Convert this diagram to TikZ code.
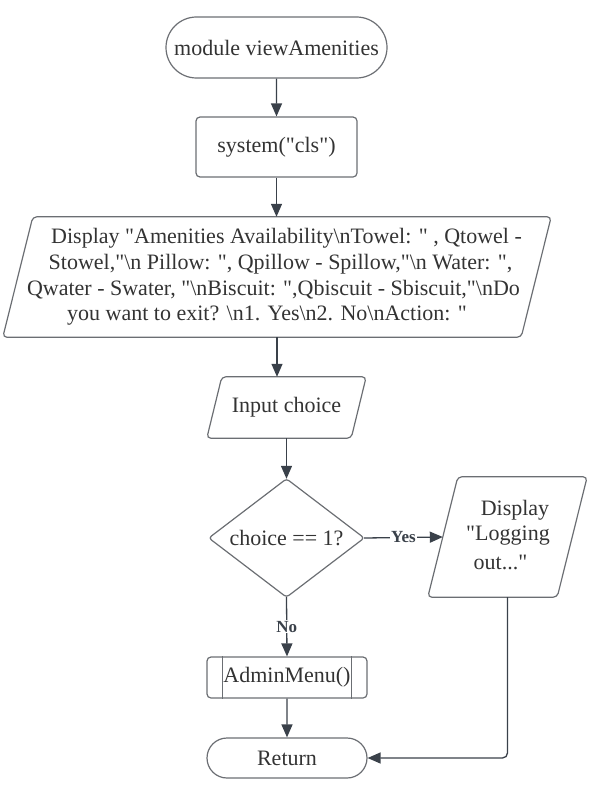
\documentclass[tikz,border=0pt]{standalone}
\usepackage{fontspec}
\setmainfont{Liberation Serif}[Ligatures=TeXOff]
\usetikzlibrary{shapes.misc,arrows.meta,calc}
\definecolor{ln}{HTML}{3A414A}
\definecolor{bd}{HTML}{6B6E73}
\definecolor{tx}{HTML}{333333}
\begin{document}
\begin{tikzpicture}[x=1pt,y=-1pt,
  every node/.style={text=tx, font=\fontsize{22}{26}\selectfont},
  term/.style={rounded rectangle, draw=bd, line width=1.2pt, inner sep=0pt},
  proc/.style={rectangle, draw=bd, line width=1.2pt, rounded corners=4pt, inner sep=0pt},
  ghost/.style={rectangle, inner sep=0pt, align=center},
  txtline/.style={inner sep=0pt, anchor=center},
  shapeline/.style={draw=bd, line width=1.2pt, rounded corners=4pt},
  arr/.style={draw=ln, line width=1.3pt, -{Triangle[width=11pt,length=13pt]}},
  lbl/.style={fill=white, text=ln, font=\bfseries\fontsize{17}{19}\selectfont, inner sep=1pt}]
\useasboundingbox (0,0) rectangle (600,800);

\node[term, minimum width=221pt, minimum height=61pt] (start) at (276.5,47.5) {module viewAmenities};
\node[proc, minimum width=161pt, minimum height=60pt] (sys) at (276.5,147) {system("cls")};

% display parallelogram (text lines follow the slant)
\node[ghost, minimum width=518pt, minimum height=120pt] (disp) at (277,277) {};
\draw[shapeline] ($(disp.north west)+(15,0)$) -- ($(disp.north east)+(15,0)$) -- ($(disp.south east)+(-15,0)$) -- ($(disp.south west)+(-15,0)$) -- cycle;
\node[txtline] (d1) at ($(disp.center)+(9.5,-39)$) {Display "Amenities Availability\textbackslash nTowel: " , Qtowel -};
\node[txtline] (d2) at ($(disp.center)+(3.5,-13)$) {Stowel,"\textbackslash n Pillow: ", Qpillow - Spillow,"\textbackslash n Water: ",};
\node[txtline] (d3) at ($(disp.center)+(-3.5,13)$) {Qwater - Swater, "\textbackslash nBiscuit: ",Qbiscuit - Sbiscuit,"\textbackslash nDo};
\node[txtline] (d4) at ($(disp.center)+(-10,39)$) {you want to exit? \textbackslash n1. Yes\textbackslash n2. No\textbackslash nAction: "};

\node[ghost, minimum width=144pt, minimum height=61pt] (inp) at (286.5,407.5) {Input choice};
\draw[shapeline] ($(inp.north west)+(7.5,0)$) -- ($(inp.north east)+(7.5,0)$) -- ($(inp.south east)+(-7.5,0)$) -- ($(inp.south west)+(-7.5,0)$) -- cycle;

\node[ghost, minimum width=155pt, minimum height=118pt] (dec) at (286.5,538) {choice == 1?};
\draw[shapeline, rounded corners=3pt] (dec.north) -- (dec.east) -- (dec.south) -- (dec.west) -- cycle;

\node[ghost, minimum width=129pt, minimum height=120pt] (log) at (507.5,537) {};
\draw[shapeline] ($(log.north west)+(15,0)$) -- ($(log.north east)+(15,0)$) -- ($(log.south east)+(-15,0)$) -- ($(log.south west)+(-15,0)$) -- cycle;
\node[txtline] (l1) at ($(log.center)+(7.5,-27)$) {Display};
\node[txtline] (l2) at ($(log.center)+(0.5,-1)$) {"Logging};
\node[txtline] (l3) at ($(log.center)+(-7,25)$) {out..."};

\node[proc, minimum width=160pt, minimum height=41pt] (adm) at (287,677.5) {AdminMenu()};
\draw[draw=bd, line width=1.2pt] ($(adm.north west)+(16,0)$) -- ($(adm.south west)+(16,0)$);
\draw[draw=bd, line width=1.2pt] ($(adm.north east)+(-16,0)$) -- ($(adm.south east)+(-16,0)$);

\node[term, minimum width=160pt, minimum height=40pt] (ret) at (287,758) {Return};

\draw[arr] (start) -- (sys);
\draw[arr] (sys.south) -- (sys.south |- disp.north);
\draw[arr] (disp.south) -- (disp.south |- inp.north);
\draw[arr] (inp) -- (dec);
\draw[arr] (dec.east) -- node[lbl]{Yes} (log.west);
\draw[arr] (dec.south) -- node[lbl]{No} (adm.north);
\draw[arr] (adm) -- (ret);
\draw[arr, rounded corners=5pt] (log.south) |- (ret.east);
\end{tikzpicture}
\end{document}
